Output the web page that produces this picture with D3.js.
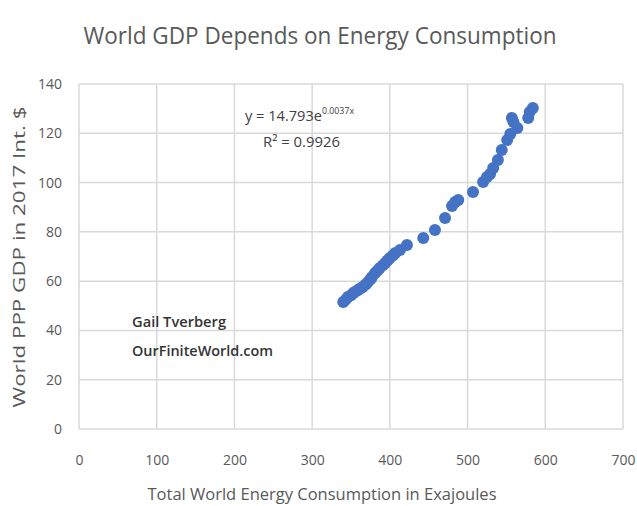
<!DOCTYPE html>
<html>
<head>
<meta charset="utf-8">
<script src="https://cdn.jsdelivr.net/npm/d3@7"></script>
<style>
  body { margin: 0; background: #fff; }
  text { font-family: "Open Sans", "Liberation Sans", sans-serif; }
</style>
</head>
<body>
<div id="chart"></div>
<script>
'use strict'

// energy use (EJ) and GDP (trillion 2017 Int. $)
const energy = [340, 343, 346, 350, 353, 356, 359, 362, 365, 369, 372, 375, 377, 381, 384, 387, 391, 394, 397, 400, 404, 407, 413, 422,
                443, 458, 471, 480, 484, 488, 507, 520, 525, 529, 533, 539, 544, 551,
                555, 557, 559, 564, 578, 580, 584]
const gdp = [51.5, 52.4, 53.6, 54.3, 55.2, 55.8, 56.4, 57.0, 57.6, 58.6, 59.7, 60.8, 61.7, 63.3, 64.2, 65.3, 66.4, 67.4, 68.4, 69.4, 70.4, 71.4, 72.6, 74.7,
             77.5, 80.8, 85.6, 90.5, 92.1, 92.9, 96.2, 100.2, 102.3, 103.5, 105.9, 109.2, 113.2, 117.3,
             119.7, 126.2, 124.6, 122.1, 126.2, 128.6, 130.3]

const xTicks = [0, 100, 200, 300, 400, 500, 600, 700]
const yTicks = [0, 20, 40, 60, 80, 100, 120, 140]

const title = 'World GDP Depends on Energy Consumption'
const xTitle = 'Total World Energy Consumption in Exajoules'
const yTitle = 'World PPP GDP in 2017 Int. $'
const credit = ['Gail Tverberg', 'OurFiniteWorld.com']

////////////////////////////////////
//////////// svg setup /////////////
////////////////////////////////////

const svgWidth = 637, svgHeight = 506
const margin = {left: 79, right: 14, top: 84, bottom: 77}
const width = svgWidth - margin.left - margin.right
const height = svgHeight - margin.top - margin.bottom

const svg = d3.select('#chart')
    .append('svg')
    .attr('width', svgWidth)
    .attr('height', svgHeight)

const g = svg.append('g')
    .attr('transform', `translate(${margin.left},${margin.top})`)

////////////////////////////////////
//////////// Scales ////////////////
////////////////////////////////////

const x = d3.scaleLinear().domain([0, 700]).range([0, width])
const y = d3.scaleLinear().domain([0, 140]).range([height, 0])

// gridlines
g.append('g')
    .attr('class', 'x-grid')
    .selectAll('line')
    .data(xTicks)
    .join('line')
    .attr('x1', d => x(d)).attr('x2', d => x(d))
    .attr('y1', 0).attr('y2', height)
    .style('stroke', '#d9d9d9')
    .style('stroke-width', 1.5)

g.append('g')
    .attr('class', 'y-grid')
    .selectAll('line')
    .data(yTicks)
    .join('line')
    .attr('x1', 0).attr('x2', width)
    .attr('y1', d => y(d)).attr('y2', d => y(d))
    .style('stroke', '#d9d9d9')
    .style('stroke-width', 1.5)

// tick labels
const xAxis = g.append('g')
    .attr('transform', `translate(0,${height})`)
    .call(d3.axisBottom(x).tickValues(xTicks).tickSize(0).tickPadding(26))
xAxis.select('.domain').remove()
xAxis.selectAll('text')
    .style('font-size', '14px')
    .style('fill', '#595959')

const yAxis = g.append('g')
    .call(d3.axisLeft(y).tickValues(yTicks).tickSize(0).tickPadding(17))
yAxis.select('.domain').remove()
yAxis.selectAll('text')
    .style('font-size', '14px')
    .style('fill', '#595959')

////////////////////////////////////
//////////// points ////////////////
////////////////////////////////////

g.append('g')
    .selectAll('circle')
    .data(energy.map((e, i) => ({e: e, v: gdp[i]})))
    .join('circle')
    .attr('cx', d => x(d.e))
    .attr('cy', d => y(d.v))
    .attr('r', 6)
    .style('fill', '#4472C4')

////////////////////////////////////
//////////// texts /////////////////
////////////////////////////////////

svg.append('text')
    .attr('x', 320)
    .attr('y', 44)
    .attr('text-anchor', 'middle')
    .attr('textLength', 473)
    .attr('lengthAdjust', 'spacingAndGlyphs')
    .style('font-size', '23px')
    .style('fill', '#595959')
    .text(title)

svg.append('text')
    .attr('x', 322)
    .attr('y', 500)
    .attr('text-anchor', 'middle')
    .attr('textLength', 349)
    .attr('lengthAdjust', 'spacingAndGlyphs')
    .style('font-size', '16px')
    .style('fill', '#595959')
    .text(xTitle)

svg.append('text')
    .attr('transform', 'translate(25,257) rotate(-90)')
    .attr('text-anchor', 'middle')
    .attr('textLength', 301)
    .attr('lengthAdjust', 'spacingAndGlyphs')
    .style('font-size', '17px')
    .style('fill', '#595959')
    .text(yTitle)

// trendline equation
const eq = svg.append('text')
    .attr('x', 245)
    .attr('y', 121)
    .style('font-size', '15px')
    .style('fill', '#404040')
eq.append('tspan').attr('textLength', 77).attr('lengthAdjust', 'spacingAndGlyphs').text('y = 14.793e')
eq.append('tspan').attr('dy', -7).attr('textLength', 32).attr('lengthAdjust', 'spacingAndGlyphs')
    .style('font-size', '9px').text('0.0037x')

svg.append('text')
    .attr('x', 263)
    .attr('y', 147)
    .attr('textLength', 77)
    .attr('lengthAdjust', 'spacingAndGlyphs')
    .style('font-size', '15px')
    .style('fill', '#404040')
    .text('R² = 0.9926')

svg.append('g')
    .selectAll('text')
    .data(credit)
    .join('text')
    .attr('x', 132)
    .attr('y', (d, i) => 327 + i * 29)
    .attr('textLength', (d, i) => i == 0 ? 94 : 141)
    .attr('lengthAdjust', 'spacingAndGlyphs')
    .style('font-size', '15px')
    .style('font-weight', '600')
    .style('fill', '#333333')
    .text(d => d)
</script>
</body>
</html>
